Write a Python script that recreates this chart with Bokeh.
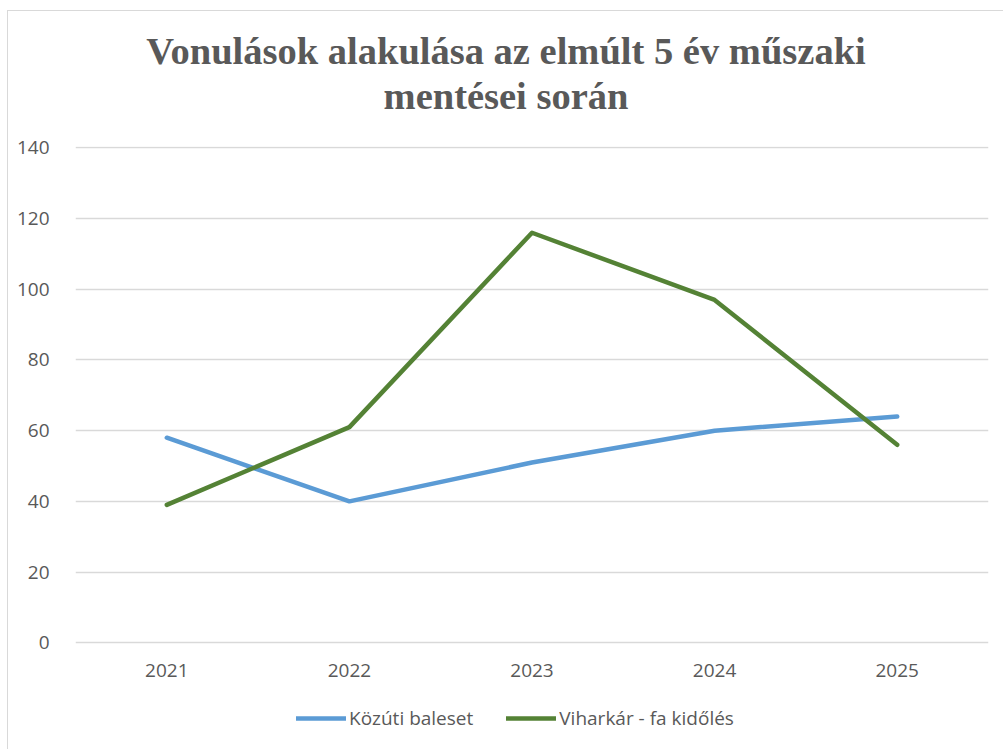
from bokeh.plotting import figure
from bokeh.models import Legend, LegendItem, FactorRange, Div, ColumnDataSource
from bokeh.layouts import column
from bokeh.core.properties import value
from bokeh.embed import file_html
from bokeh.resources import INLINE

years = ["2021", "2022", "2023", "2024", "2025"]
kozuti = [58, 40, 51, 60, 64]
vihar = [39, 61, 116, 97, 56]
title_lines = ["Vonulások alakulása az elmúlt 5 év műszaki", "mentései során"]
series_names = ["Közúti baleset", "Viharkár - fa kidőlés"]
y_ticks = [0, 20, 40, 60, 80, 100, 120, 140]

GRAY = "#595959"

title_div = Div(
    text=('<div style="font-family: \'Liberation Serif\'; font-weight: bold; font-size: 38.5px; '
          'color: #595959; line-height: 45px; text-align: center; padding-top: 18px; '
          'padding-left: 8px; width: 988px; white-space: nowrap;">'
          + title_lines[0] + "<br>" + title_lines[1] + "</div>"),
    width=996, height=115, margin=0)

# frame extends to the bottom so the legend is not clipped; y=0 stays at the same place
p = figure(x_range=FactorRange(*years), y_range=(-30.2, 140.4), frame_width=913, frame_height=603,
           output_backend="svg", toolbar_location=None, title=None)
p.min_border_left = 67
p.min_border_right = 16
p.min_border_top = 20
p.min_border_bottom = 0
p.outline_line_color = None
p.background_fill_color = "white"
p.border_fill_color = "white"

r1 = p.line(years, kozuti, line_color="#5B9BD5", line_width=4.5, line_cap="round", line_join="round")
r2 = p.line(years, vihar, line_color="#548235", line_width=4.5, line_cap="round", line_join="round")

# category labels under the zero line
lab_src = ColumnDataSource(dict(x=years, y=[0] * len(years), t=years))
p.text(x="x", y="y", text="t", source=lab_src, y_offset=28, text_align="center",
       text_baseline="middle", text_font=value("Open Sans"), text_font_size="19px",
       text_color=GRAY)

p.xaxis.visible = False
p.yaxis.ticker = y_ticks
p.ygrid.ticker = y_ticks
p.xgrid.grid_line_color = None
p.ygrid.grid_line_color = "#d9d9d9"
p.ygrid.grid_line_width = 1.3
p.yaxis.axis_line_color = None
p.yaxis.major_tick_line_color = None
p.yaxis.minor_tick_line_color = None
p.yaxis.major_label_text_font = "Open Sans"
p.yaxis.major_label_text_font_size = "19px"
p.yaxis.major_label_text_color = GRAY
p.yaxis.major_label_standoff = 20

legend = Legend(items=[LegendItem(label=series_names[0], renderers=[r1]),
                       LegendItem(label=series_names[1], renderers=[r2])],
                orientation="horizontal", location=(221, 18),
                glyph_width=50, glyph_height=20, label_standoff=3, spacing=33,
                padding=0, margin=0, border_line_color=None, background_fill_alpha=0,
                label_text_font="Open Sans", label_text_font_size="19px",
                label_text_color=GRAY)
p.add_layout(legend, "center")

layout = column(title_div, p, spacing=0, margin=(10, 0, 0, 7),
                styles={"border-left": "1px solid #d9d9d9", "border-top": "1px solid #d9d9d9",
                        "background-color": "white"})

open("out.html", "w").write(file_html(layout, INLINE))
